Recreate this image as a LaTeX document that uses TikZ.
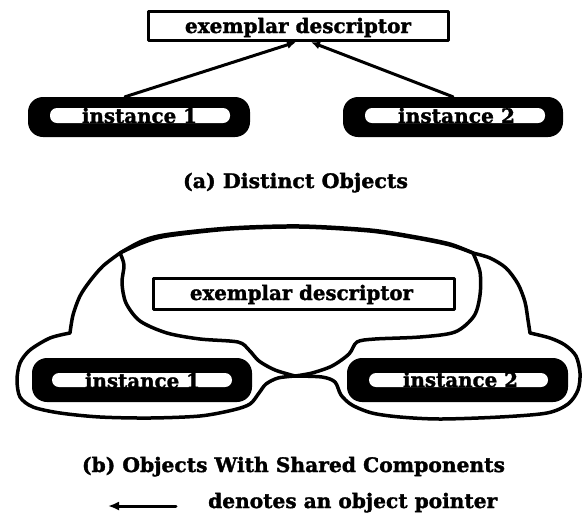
\documentclass[tikz,border=0pt]{standalone}
\usepackage{fontspec}
\setmainfont{DejaVu Serif}
\newfontfamily\heavyfont[FakeBold=1.6]{DejaVu Serif Bold}
\usepackage{graphicx}
\usetikzlibrary{arrows.meta,calc}

% set a label at a fixed width, keeping its natural height
\newcommand{\fitto}[2]{\resizebox{#1}{\height}{#2}}

\begin{document}
\begin{tikzpicture}[x=1pt,y=-1pt,line join=round,line cap=round,
  exbox/.style={draw,line width=3.2pt,inner sep=0pt},
  instbox/.style={fill=black,rounded corners=15pt,inner sep=0pt},
  pillbox/.style={fill=white,rounded corners=7pt,inner sep=0pt,minimum width=180pt,minimum height=14pt},
  txt/.style={inner sep=0pt,anchor=base,font=\heavyfont\fontsize{20}{20}\selectfont},
  ptr/.style={line width=3pt,-{Latex[length=9pt,width=8pt]}},
  outline/.style={line width=3.5pt}]

\useasboundingbox (0,0) rectangle (583,515);

% ---------- (a) distinct objects ----------
\node[exbox,minimum width=300pt,minimum height=29pt] (exa) at (298.5,26) {};
\node[txt] (exat) at (298,33) {\fitto{226pt}{exemplar descriptor}};

\node[instbox,minimum width=222pt,minimum height=40pt] (i1a) at (139,117) {};
\node[pillbox,minimum height=15pt] (p1a) at (140,115.5) {};
\node[txt] (t1a) at (139.5,123) {\fitto{115pt}{instance 1}};

\node[instbox,minimum width=220pt,minimum height=40pt] (i2a) at (453,117) {};
\node[pillbox,minimum height=15pt] (p2a) at (455,115.5) {};
\node[txt] (t2a) at (456.5,123) {\fitto{117pt}{instance 2}};

\draw[ptr] ([xshift=-14pt]i1a.north) -- ([xshift=-2.5pt]exa.south);
\draw[ptr] (i2a.north) -- ([xshift=12.5pt]exa.south);

\node[txt] (capa) at (295.5,188) {\fitto{225pt}{(a) Distinct Objects}};

% ---------- (b) objects with shared components ----------
\node[exbox,minimum width=301pt,minimum height=31pt] (exb) at (304,294) {};
\node[txt] (exbt) at (301.5,300) {\fitto{223pt}{exemplar descriptor}};

\node[instbox,minimum width=220pt,minimum height=44pt] (i1b) at (142,380) {};
\node[pillbox] (p1b) at (142,380) {};
\node[txt] (t1b) at (142.5,388) {\fitto{115pt}{instance 1}};

\node[instbox,minimum width=221pt,minimum height=44pt] (i2b) at (457.5,380) {};
\node[pillbox,minimum width=179pt] (p2b) at (458.5,380) {};
\node[txt] (t2b) at (460.5,387) {\fitto{115pt}{instance 2}};

% object holding instance 1 and the shared descriptor
\draw[outline]
  plot[smooth,tension=.5] coordinates {(120,253) (142,243) (167,236) (230,229) (300,227) (370,231) (416,238) (450,245) (473,253)}
  -- plot[smooth,tension=.5] coordinates {(473,253) (480,272) (480,295) (474,316) (455,332) (420,337) (375,339) (357,342) (349,354) (332,366) (312,373) (295,376)}
  -- plot[smooth,tension=.5] coordinates {(295,376) (278,378) (266,384) (259,393) (250,404) (233,410) (200,416) (150,418) (100,417) (60,413) (33,407) (20,397) (17,380) (20,363) (30,350) (50,338) (70,333)}
  -- plot[smooth,tension=.5] coordinates {(70,333) (73,315) (80,296) (90,281) (103,266) (120,253)};

% object holding instance 2 and the shared descriptor
\draw[outline]
  plot[smooth,tension=.5] coordinates {(120,253) (142,241) (167,234.5) (230,228) (300,226) (370,230) (416,237) (450,244) (473,253)}
  -- plot[smooth,tension=.5] coordinates {(473,253) (490,258) (506,268) (518,284) (525,302) (528,320) (530,333)}
  -- plot[smooth,tension=.5] coordinates {(530,333) (550,338) (565,345) (576,356) (580,373) (578,390) (568,404) (547,413) (500,417) (440,419) (400,417) (372,413) (352,405) (341,395) (335,382) (322,377) (295,376)}
  -- plot[smooth,tension=.5] coordinates {(295,376) (275,370) (259,361) (249,350) (238,342) (200,339) (167,333) (140,321) (126,303) (122,283) (124,265) (120,253)};

\node[txt] (capb) at (293.5,472) {\fitto{423pt}{(b) Objects With Shared Components}};

% legend
\coordinate (lgA) at (176,506);
\coordinate (lgB) at (108,506);
\draw[ptr,-{Latex[length=11pt,width=9pt]}] (lgA) -- (lgB);
\node[txt,anchor=base west] (lgt) at (208,508) {\fitto{289pt}{denotes an object pointer}};

\end{tikzpicture}
\end{document}
